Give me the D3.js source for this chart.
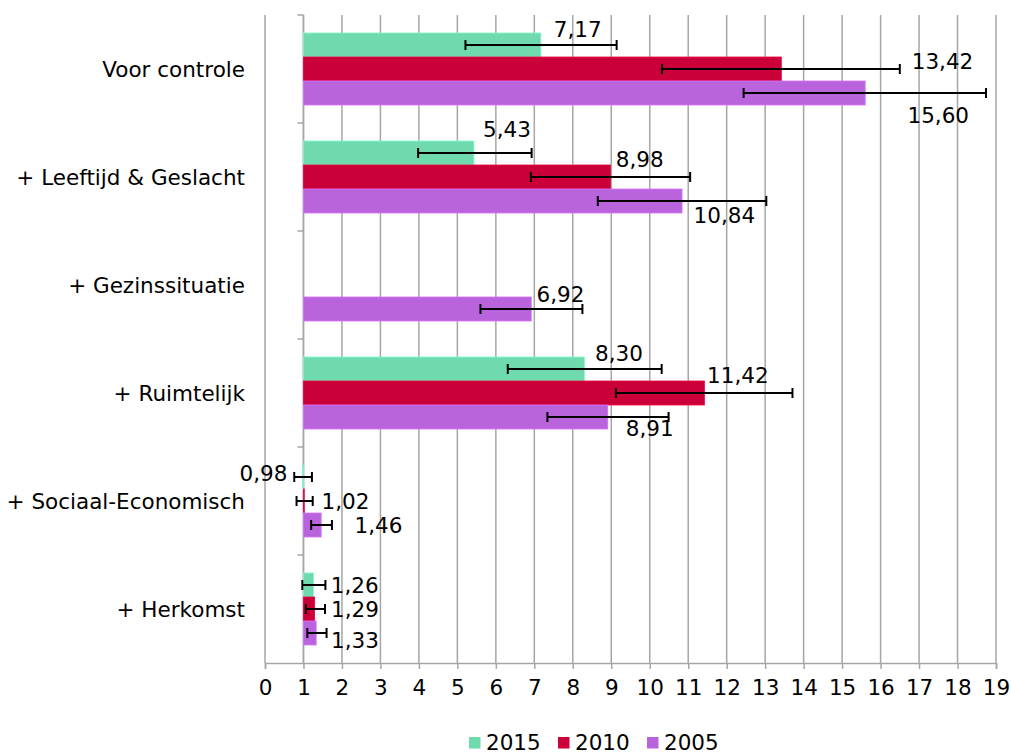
<!DOCTYPE html>
<html>
<head>
<meta charset="utf-8">
<script src="https://cdn.jsdelivr.net/npm/d3@7"></script>
<style>
  body { margin: 0; background: #fff; }
  svg text { font-family: "DejaVu Sans", Verdana, sans-serif; fill: #000; }
</style>
</head>
<body>
<div id="app"></div>
<script>
// categories and series
const categories = ["Voor controle", "+ Leeftijd & Geslacht", "+ Gezinssituatie", "+ Ruimtelijk", "+ Sociaal-Economisch", "+ Herkomst"];
const seriesNames = ["2015", "2010", "2005"];
const colors = ["#6fdaae", "#cc0038", "#b964dc"];

// odds ratios per series (null = not shown)
const values2015 = [7.17, 5.43, null, 8.30, 0.98, 1.26];
const values2010 = [13.42, 8.98, null, 11.42, 1.02, 1.29];
const values2005 = [15.60, 10.84, 6.92, 8.91, 1.46, 1.33];

// confidence intervals
const low2015 = [5.21, 3.98, null, 6.31, 0.76, 0.97];
const high2015 = [9.14, 6.93, null, 10.31, 1.22, 1.57];
const low2010 = [10.32, 6.91, null, 9.12, 0.82, 1.06];
const high2010 = [16.50, 11.05, null, 13.71, 1.24, 1.56];
const low2005 = [12.44, 8.65, 5.60, 7.34, 1.20, 1.10];
const high2005 = [18.74, 13.03, 8.25, 10.49, 1.74, 1.60];

const xTicks = d3.range(0, 20);

// where each data label sits: centre in axis units, baseline in bar heights below bar top
const labelX2015 = [8.13, 6.29, null, 9.20, -0.04, 2.33];
const labelX2010 = [17.61, 9.74, null, 12.29, 2.09, 2.34];
const labelX2005 = [17.50, 11.94, 7.68, 10.00, 2.95, 2.34];
const labelDy2015 = [0.17, -0.17, null, 0.18, 0.67, 0.82];
const labelDy2010 = [0.51, 0.08, null, 0.10, 0.83, 0.85];
const labelDy2005 = [1.75, 1.40, 0.22, 1.28, 0.85, 1.14];

const width = 1011, height = 754;
const fontSize = 21.5;
const fmt = v => d3.format(".2f")(v).replace(".", ",");

const seriesData = [
  {name: "2015", vals: values2015, lo: low2015, hi: high2015, lx: labelX2015, ldy: labelDy2015},
  {name: "2010", vals: values2010, lo: low2010, hi: high2010, lx: labelX2010, ldy: labelDy2010},
  {name: "2005", vals: values2005, lo: low2005, hi: high2005, lx: labelX2005, ldy: labelDy2005}
];

const svg = d3.select("#app").append("svg")
  .attr("width", width)
  .attr("height", height);

const x = d3.scaleLinear().domain([0, 19]).range([265, 996]);
const y = d3.scaleBand().domain(categories).range([15, 663]).padding(0);
const ySub = d3.scaleBand().domain(seriesNames).range([0, y.bandwidth()])
  .paddingInner(0).paddingOuter(0.75);
const color = d3.scaleOrdinal(seriesNames, colors);

// vertical gridlines
svg.append("g")
  .selectAll("line")
  .data(xTicks)
  .join("line")
  .attr("x1", d => x(d)).attr("x2", d => x(d))
  .attr("y1", 15).attr("y2", 663)
  .attr("stroke", "#a6a6a6")
  .attr("stroke-width", 1.5);

// category axis at 1
svg.append("line")
  .attr("x1", x(1)).attr("x2", x(1))
  .attr("y1", 15).attr("y2", 663)
  .attr("stroke", "#a6a6a6")
  .attr("stroke-width", 1.5);

svg.append("g")
  .selectAll("line")
  .data(categories.map(c => y(c)))
  .join("line")
  .attr("x1", x(1) - 6).attr("x2", x(1))
  .attr("y1", d => d).attr("y2", d => d)
  .attr("stroke", "#a6a6a6")
  .attr("stroke-width", 1.5);

function rowsOf(s) {
  return categories.map((c, i) => ({cat: c, v: s.vals[i], lo: s.lo[i], hi: s.hi[i], lx: s.lx[i], ldy: s.ldy[i]}))
    .filter(d => d.v != null);
}

// bars
seriesData.forEach(s => {
  svg.append("g")
    .selectAll("rect")
    .data(rowsOf(s))
    .join("rect")
    .attr("x", d => x(Math.min(1, d.v)))
    .attr("width", d => Math.abs(x(d.v) - x(1)))
    .attr("y", d => y(d.cat) + ySub(s.name))
    .attr("height", ySub.bandwidth())
    .attr("fill", color(s.name))
    .attr("stroke", d3.color(color(s.name)).brighter(0.4))
    .attr("stroke-width", 0.8);
});

// error bars and labels on top
seriesData.forEach(s => {
  const rows = rowsOf(s);
  const g = svg.append("g");
  const cy = d => y(d.cat) + ySub(s.name) + ySub.bandwidth() / 2;

  g.selectAll("line.err")
    .data(rows)
    .join("line")
    .attr("class", "err")
    .attr("x1", d => x(d.lo)).attr("x2", d => x(d.hi))
    .attr("y1", cy).attr("y2", cy)
    .attr("stroke", "#000").attr("stroke-width", 2);

  ["lo", "hi"].forEach(k => {
    g.selectAll("line.cap-" + k)
      .data(rows)
      .join("line")
      .attr("class", "cap-" + k)
      .attr("x1", d => x(d[k])).attr("x2", d => x(d[k]))
      .attr("y1", d => cy(d) - 5).attr("y2", d => cy(d) + 5)
      .attr("stroke", "#000").attr("stroke-width", 2);
  });

  g.selectAll("text")
    .data(rows)
    .join("text")
    .attr("x", d => x(d.lx))
    .attr("y", d => y(d.cat) + ySub(s.name) + d.ldy * ySub.bandwidth())
    .attr("text-anchor", "middle")
    .attr("font-size", fontSize)
    .text(d => fmt(d.v));
});

// category labels
svg.append("g")
  .selectAll("text")
  .data(categories)
  .join("text")
  .attr("x", x(0) - 20)
  .attr("y", d => y(d) + y.bandwidth() / 2)
  .attr("dy", "0.35em")
  .attr("text-anchor", "end")
  .attr("font-size", fontSize)
  .text(d => d);

// x axis
const xAxis = svg.append("g")
  .attr("transform", "translate(0,663)")
  .call(d3.axisBottom(x).tickValues(xTicks).tickSize(6).tickPadding(11).tickFormat(d3.format("d")));
xAxis.select(".domain").attr("stroke", "#a6a6a6").attr("stroke-width", 1.5);
xAxis.selectAll(".tick line").attr("stroke", "#a6a6a6").attr("stroke-width", 1.5);
xAxis.selectAll(".tick text")
  .attr("font-size", fontSize)
  .attr("font-family", "DejaVu Sans, Verdana, sans-serif")
  .attr("fill", "#000");

// legend
const legendX = [469, 558, 647];
const legend = svg.append("g")
  .selectAll("g")
  .data(seriesNames)
  .join("g")
  .attr("transform", (d, i) => `translate(${legendX[i]},737)`);
legend.append("rect")
  .attr("width", 11.5).attr("height", 11.5)
  .attr("fill", d => color(d));
legend.append("text")
  .attr("x", 17)
  .attr("y", 12.5)
  .attr("font-size", fontSize)
  .text(d => d);
</script>
</body>
</html>
